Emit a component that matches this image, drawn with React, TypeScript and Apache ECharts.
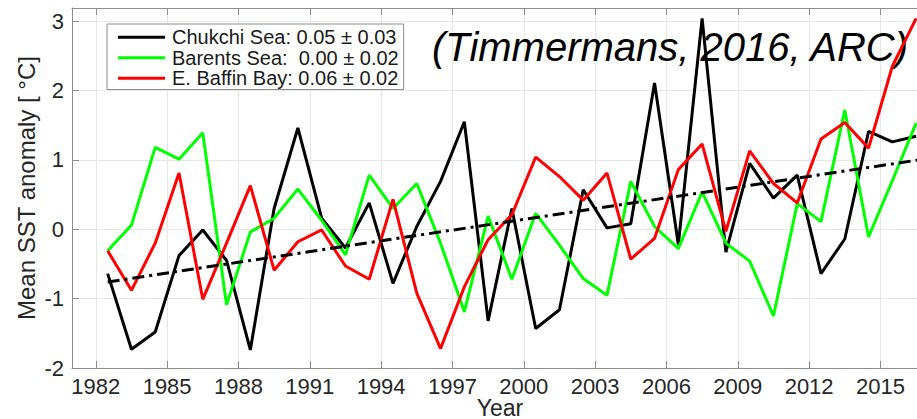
import React, { useEffect, useRef } from "react";
import * as echarts from "echarts";

const FONT = '"Liberation Sans", Arial, Helvetica, sans-serif';

const years = [
  1982, 1983, 1984, 1985, 1986, 1987, 1988, 1989, 1990, 1991, 1992, 1993,
  1994, 1995, 1996, 1997, 1998, 1999, 2000, 2001, 2002, 2003, 2004, 2005,
  2006, 2007, 2008, 2009, 2010, 2011, 2012, 2013, 2014, 2015, 2016,
];

const chukchi = [
  -0.64, -1.73, -1.48, -0.38, -0.01, -0.45, -1.74, 0.3, 1.46, 0.16, -0.27,
  0.38, -0.78, 0.04, 0.69, 1.55, -1.32, 0.3, -1.43, -1.16, 0.57, 0.02, 0.08,
  2.11, -0.22, 3.04, -0.33, 0.95, 0.45, 0.78, -0.64, -0.14, 1.41, 1.26, 1.34,
];

const barents = [
  -0.31, 0.06, 1.18, 1.01, 1.39, -1.09, -0.04, 0.16, 0.58, 0.13, -0.37, 0.78,
  0.3, 0.66, -0.2, -1.19, 0.19, -0.72, 0.23, -0.23, -0.71, -0.95, 0.69, 0.04,
  -0.28, 0.54, -0.2, -0.46, -1.25, 0.37, 0.11, 1.72, -0.11, 0.7, 1.53,
];

const baffin = [
  -0.31, -0.88, -0.2, 0.81, -1.01, -0.2, 0.63, -0.59, -0.18, -0.01, -0.53,
  -0.72, 0.43, -0.92, -1.72, -0.83, -0.15, 0.21, 1.04, 0.76, 0.42, 0.81,
  -0.43, -0.13, 0.86, 1.23, -0.03, 1.13, 0.66, 0.38, 1.3, 1.54, 1.17, 2.35,
  3.04,
];

const trendX = [1982.5, 2017];
const trendY = [-0.76, 1.02];

const xTickLabels = [1982, 1985, 1988, 1991, 1994, 1997, 2000, 2003, 2006, 2009, 2012, 2015];
const yTickLabels = [-2, -1, 0, 1, 2, 3];

const seriesNames = [
  "Chukchi Sea: 0.05 \u00b1 0.03",
  "Barents Sea:  0.00 \u00b1 0.02",
  "E. Baffin Bay: 0.06 \u00b1 0.02",
];
const seriesColors = ["#000000", "#00ff00", "#ff0000"];
const citation = "(Timmermans, 2016, ARC)";

const AXIS_GRAY = "#8c8c8c";
const GRID_GRAY = "#e6e6e6";
const LABEL = "#262626";

export default function App() {
  const ref = useRef<HTMLDivElement>(null);

  useEffect(() => {
    if (!ref.current) return;
    const chart = echarts.init(ref.current, null, { renderer: "svg" });
    const mid = (vals: number[]) => vals.map((v, i) => [years[i] + 0.5, v]);
    const all = [chukchi, barents, baffin];
    const plain = (v: number) => String(v);

    const xCommon = {
      type: "value" as const,
      min: 1981,
      max: 2017,
    };

    chart.setOption({
      animation: false,
      backgroundColor: "#ffffff",
      grid: { left: 72, right: -11, top: 8, bottom: 51, containLabel: false, outerBoundsMode: "none" },
      xAxis: [
        {
          ...xCommon,
          position: "bottom",
          axisLine: { show: true, onZero: false, lineStyle: { color: AXIS_GRAY, width: 1 } },
          axisTick: { show: true, inside: true, length: 7, customValues: xTickLabels, lineStyle: { color: AXIS_GRAY } },
          axisLabel: { customValues: xTickLabels, formatter: plain, fontSize: 22, color: LABEL, margin: 7, fontFamily: FONT },
          splitLine: { show: true, lineStyle: { color: GRID_GRAY, width: 1 } },
          name: "Year",
          nameLocation: "middle",
          nameGap: 28,
          nameMoveOverlap: false,
          nameTextStyle: { fontSize: 23, lineHeight: 23, color: LABEL, fontFamily: FONT },
        },
        {
          ...xCommon,
          position: "top",
          axisLine: { show: true, onZero: false, lineStyle: { color: AXIS_GRAY, width: 1 } },
          axisTick: { show: true, inside: true, length: 7, customValues: xTickLabels, lineStyle: { color: AXIS_GRAY } },
          axisLabel: { show: false },
          splitLine: { show: false },
        },
      ],
      yAxis: {
        type: "value",
        min: -2,
        max: 3.19,
        axisLine: { show: true, onZero: false, lineStyle: { color: AXIS_GRAY, width: 1 } },
        axisTick: { show: true, inside: true, length: 7, customValues: yTickLabels, lineStyle: { color: AXIS_GRAY } },
        axisLabel: { customValues: yTickLabels, formatter: plain, fontSize: 22, color: LABEL, margin: 8, fontFamily: FONT },
        splitLine: { show: true, lineStyle: { color: GRID_GRAY, width: 1 } },
        name: "Mean SST anomaly [ \u00b0C]",
        nameLocation: "middle",
        nameGap: 34,
        nameMoveOverlap: false,
        nameTextStyle: { fontSize: 24, color: LABEL, fontFamily: FONT },
      },
      legend: {
        data: seriesNames,
        orient: "vertical",
        left: 107,
        top: 24,
        padding: [3, 5, 1, 11],
        itemGap: 0,
        itemWidth: 47,
        itemHeight: 3,
        icon: "rect",
        backgroundColor: "#ffffff",
        borderColor: AXIS_GRAY,
        borderWidth: 1,
        borderRadius: 0,
        selectedMode: false,
        textStyle: { fontSize: 20, lineHeight: 20.5, color: "#1a1a1a", fontFamily: FONT, padding: [0, 0, 0, 2] },
      },
      graphic: [
        {
          type: "text",
          x: 432,
          y: 47,
          z: 1,
          style: {
            text: citation,
            font: `italic 40px ${FONT}`,
            fill: "#000000",
            verticalAlign: "middle",
          },
        },
      ],
      series: [
        ...all.map((vals, i) => ({
          name: seriesNames[i],
          type: "line",
          data: mid(vals),
          showSymbol: false,
          color: seriesColors[i],
          lineStyle: { width: 3, color: seriesColors[i] },
          z: 3,
        })),
        {
          name: "trend",
          type: "line",
          data: trendX.map((x, i) => [x, trendY[i]]),
          showSymbol: false,
          color: "#000000",
          lineStyle: { width: 3, color: "#000000", type: [12, 5, 3, 5] },
          z: 4,
        },
      ],
    });
    return () => chart.dispose();
  }, []);

  return (
    <div
      ref={ref}
      style={{ position: "absolute", left: 0, top: 0, width: 917, height: 419, overflow: "hidden" }}
    />
  );
}
